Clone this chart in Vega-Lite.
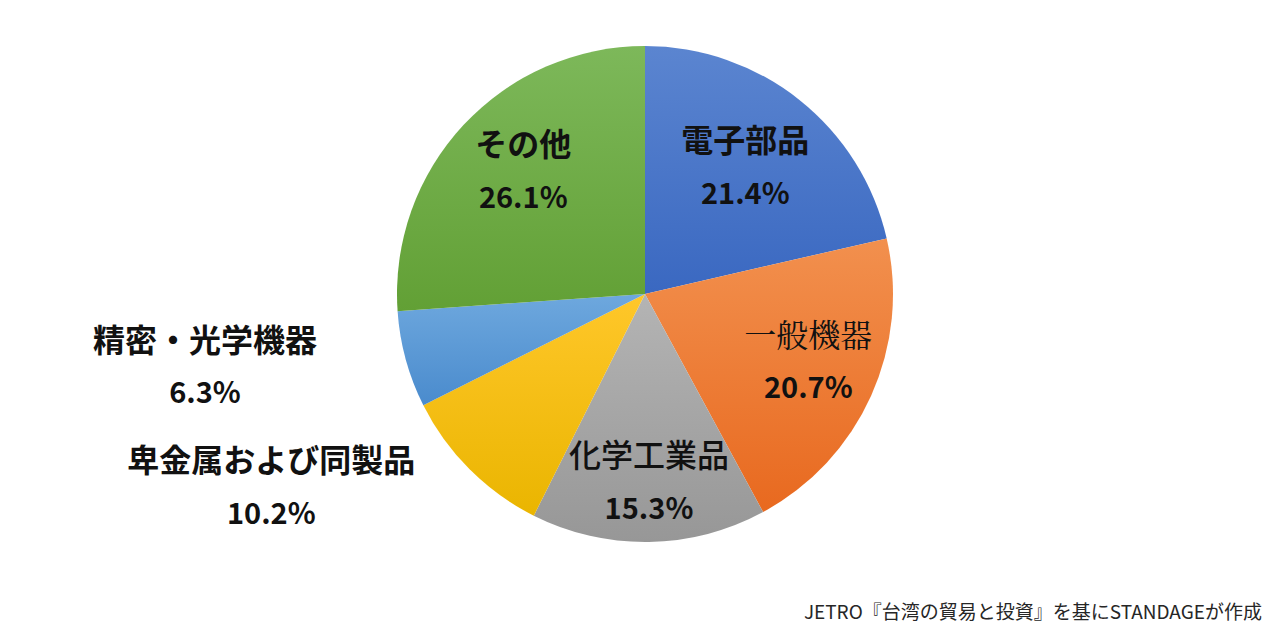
{
  "$schema": "https://vega.github.io/schema/vega-lite/v6.json",
  "autosize": "none",
  "padding": {"left": 17, "top": 0, "right": 0, "bottom": 38},
  "width": 1256,
  "height": 588,
  "background": "white",
  "config": {"view": {"stroke": null}},
  "title": {
    "text": "JETRO『台湾の貿易と投資』を基にSTANDAGEが作成",
    "orient": "bottom",
    "anchor": "end",
    "offset": -11,
    "dx": -11,
    "font": "Noto Sans CJK JP",
    "fontSize": 19,
    "fontWeight": "normal",
    "color": "#262626"
  },
  "data": {
    "values": [
      {"cat": "電子部品", "share": 0.214, "ord": 1},
      {"cat": "一般機器", "share": 0.207, "ord": 2},
      {"cat": "化学工業品", "share": 0.153, "ord": 3},
      {"cat": "卑金属および同製品", "share": 0.102, "ord": 4},
      {"cat": "精密・光学機器", "share": 0.063, "ord": 5},
      {"cat": "その他", "share": 0.261, "ord": 6}
    ]
  },
  "encoding": {
    "theta": {"field": "share", "type": "quantitative", "stack": true},
    "order": {"field": "ord", "type": "quantitative"}
  },
  "layer": [
    {
      "mark": {"type": "arc", "outerRadius": 248, "color": {"gradient": "linear", "x1": 0, "y1": 0, "x2": 0, "y2": 1, "stops": [{"offset": 0, "color": "#5b85d0"}, {"offset": 1, "color": "#3a68c1"}]}},
      "encoding": {"opacity": {"condition": {"test": "datum.cat === '電子部品'", "value": 1}, "value": 0}}
    },
    {
      "mark": {"type": "arc", "outerRadius": 248, "color": {"gradient": "linear", "x1": 0, "y1": 0, "x2": 0, "y2": 1, "stops": [{"offset": 0, "color": "#f2904e"}, {"offset": 1, "color": "#e8691f"}]}},
      "encoding": {"opacity": {"condition": {"test": "datum.cat === '一般機器'", "value": 1}, "value": 0}}
    },
    {
      "mark": {"type": "arc", "outerRadius": 248, "color": {"gradient": "linear", "x1": 0, "y1": 0, "x2": 0, "y2": 1, "stops": [{"offset": 0, "color": "#b4b4b4"}, {"offset": 1, "color": "#979797"}]}},
      "encoding": {"opacity": {"condition": {"test": "datum.cat === '化学工業品'", "value": 1}, "value": 0}}
    },
    {
      "mark": {"type": "arc", "outerRadius": 248, "color": {"gradient": "linear", "x1": 0, "y1": 0, "x2": 0, "y2": 1, "stops": [{"offset": 0, "color": "#ffc72a"}, {"offset": 1, "color": "#eab500"}]}},
      "encoding": {"opacity": {"condition": {"test": "datum.cat === '卑金属および同製品'", "value": 1}, "value": 0}}
    },
    {
      "mark": {"type": "arc", "outerRadius": 248, "color": {"gradient": "linear", "x1": 0, "y1": 0, "x2": 0, "y2": 1, "stops": [{"offset": 0, "color": "#6ea8de"}, {"offset": 1, "color": "#4a8bcd"}]}},
      "encoding": {"opacity": {"condition": {"test": "datum.cat === '精密・光学機器'", "value": 1}, "value": 0}}
    },
    {
      "mark": {"type": "arc", "outerRadius": 248, "color": {"gradient": "linear", "x1": 0, "y1": 0, "x2": 0, "y2": 1, "stops": [{"offset": 0, "color": "#7db85a"}, {"offset": 1, "color": "#62a035"}]}},
      "encoding": {"opacity": {"condition": {"test": "datum.cat === 'その他'", "value": 1}, "value": 0}}
    },
    {
      "mark": {"type": "text", "radius": 161, "dy": -26, "font": "Noto Sans CJK JP", "fontSize": 32, "fontWeight": "bold", "color": "#111111"},
      "encoding": {"text": {"condition": {"test": "datum.cat === '電子部品'", "field": "cat"}, "value": ""}}
    },
    {
      "mark": {"type": "text", "radius": 161, "dy": 27, "font": "Noto Sans CJK JP", "fontSize": 29, "fontWeight": "bold", "color": "#111111"},
      "encoding": {"text": {"condition": {"test": "datum.cat === '電子部品'", "field": "share", "type": "quantitative", "format": ".1%"}, "value": ""}}
    },
    {
      "mark": {"type": "text", "radius": 177, "dx": 2, "dy": -30, "font": "Noto Serif CJK JP, Noto Sans CJK JP", "fontSize": 32, "fontWeight": "normal", "color": "#111111"},
      "encoding": {"text": {"condition": {"test": "datum.cat === '一般機器'", "field": "cat"}, "value": ""}}
    },
    {
      "mark": {"type": "text", "radius": 177, "dx": 2, "dy": 22, "font": "Noto Sans CJK JP", "fontSize": 29, "fontWeight": "bold", "color": "#111111"},
      "encoding": {"text": {"condition": {"test": "datum.cat === '一般機器'", "field": "share", "type": "quantitative", "format": ".1%"}, "value": ""}}
    },
    {
      "mark": {"type": "text", "radius": 189, "dx": 1, "dy": -26, "font": "Noto Sans CJK JP", "fontSize": 32, "fontWeight": 500, "color": "#111111"},
      "encoding": {"text": {"condition": {"test": "datum.cat === '化学工業品'", "field": "cat"}, "value": ""}}
    },
    {
      "mark": {"type": "text", "radius": 189, "dx": 1, "dy": 27, "font": "Noto Sans CJK JP", "fontSize": 29, "fontWeight": "bold", "color": "#111111"},
      "encoding": {"text": {"condition": {"test": "datum.cat === '化学工業品'", "field": "share", "type": "quantitative", "format": ".1%"}, "value": ""}}
    },
    {
      "mark": {"type": "text", "radius": 274, "dx": -180, "dy": -26, "font": "Noto Sans CJK JP", "fontSize": 32, "fontWeight": "bold", "color": "#111111"},
      "encoding": {"text": {"condition": {"test": "datum.cat === '卑金属および同製品'", "field": "cat"}, "value": ""}}
    },
    {
      "mark": {"type": "text", "radius": 274, "dx": -180, "dy": 27, "font": "Noto Sans CJK JP", "fontSize": 29, "fontWeight": "bold", "color": "#111111"},
      "encoding": {"text": {"condition": {"test": "datum.cat === '卑金属および同製品'", "field": "share", "type": "quantitative", "format": ".1%"}, "value": ""}}
    },
    {
      "mark": {"type": "text", "radius": 280, "dx": -170, "dy": -26, "font": "Noto Sans CJK JP", "fontSize": 32, "fontWeight": "bold", "color": "#111111"},
      "encoding": {"text": {"condition": {"test": "datum.cat === '精密・光学機器'", "field": "cat"}, "value": ""}}
    },
    {
      "mark": {"type": "text", "radius": 280, "dx": -170, "dy": 26, "font": "Noto Sans CJK JP", "fontSize": 29, "fontWeight": "bold", "color": "#111111"},
      "encoding": {"text": {"condition": {"test": "datum.cat === '精密・光学機器'", "field": "share", "type": "quantitative", "format": ".1%"}, "value": ""}}
    },
    {
      "mark": {"type": "text", "radius": 172, "dx": 4, "dy": -31, "font": "Noto Sans CJK JP", "fontSize": 32, "fontWeight": "bold", "color": "#111111"},
      "encoding": {"text": {"condition": {"test": "datum.cat === 'その他'", "field": "cat"}, "value": ""}}
    },
    {
      "mark": {"type": "text", "radius": 172, "dx": 4, "dy": 22, "font": "Noto Sans CJK JP", "fontSize": 29, "fontWeight": "bold", "color": "#111111"},
      "encoding": {"text": {"condition": {"test": "datum.cat === 'その他'", "field": "share", "type": "quantitative", "format": ".1%"}, "value": ""}}
    }
  ]
}
